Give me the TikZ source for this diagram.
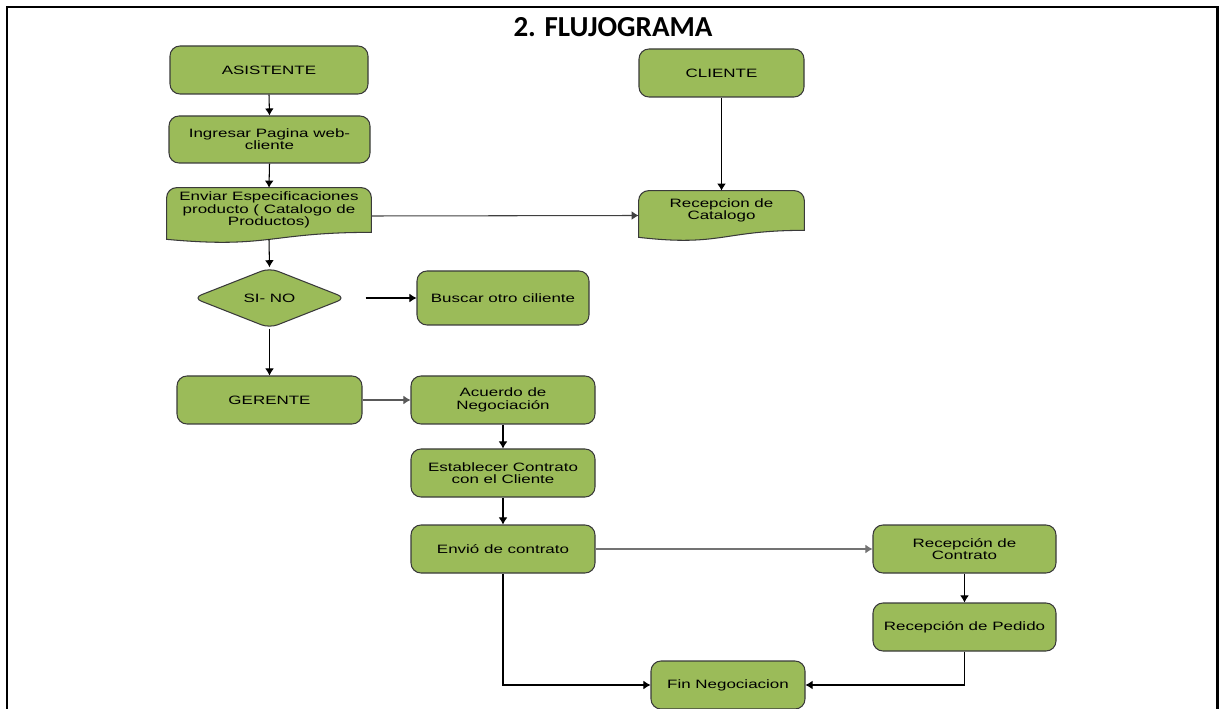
\documentclass[tikz,border=0pt]{standalone}
\usepackage{fontspec}
\setmainfont{Liberation Sans}
\newfontfamily\cajafont[FakeStretch=1.4]{Liberation Sans}
\newfontfamily\titulofont{Carlito}
\usetikzlibrary{arrows.meta,shapes.geometric,backgrounds}
\definecolor{verde}{HTML}{9BBB59}
\definecolor{borde}{HTML}{3A3A3A}
\def\px{0.02cm}

% hoja con borde ondulado abajo (documento)
\newcommand\hoja[1]{%
  \begin{pgfonlayer}{background}
    \filldraw[fill=verde,draw=borde,line width=0.6pt]
      (#1.south east)
      .. controls (#1.south) and ([yshift=-0.33cm]#1.south) .. ([yshift=-0.14cm]#1.south west)
      -- ([yshift=-0.2cm]#1.north west)
      arc[start angle=180,end angle=90,radius=0.2cm]
      -- ([xshift=-0.2cm]#1.north east)
      arc[start angle=90,end angle=0,radius=0.2cm]
      -- cycle;
  \end{pgfonlayer}}

\begin{document}
\begin{tikzpicture}[x=0.02cm,y=-0.02cm,
  txt/.style={align=center,text=black,font=\cajafont\fontsize{6.9}{7}\selectfont},
  caja/.style={txt,draw=borde,fill=verde,line width=0.6pt,rounded corners=0.2cm,
    minimum height=48*\px,inner sep=1pt},
  hojatxt/.style={txt,inner sep=0pt},
  decision/.style={txt,diamond,draw=borde,fill=verde,line width=0.6pt,rounded corners=5pt,
    inner sep=0pt,minimum width=153*\px,minimum height=54*\px},
  flecha/.style={-{Latex[length=4pt,width=5pt]},line width=0.6pt}]
  \useasboundingbox (0,0) rectangle (1224,709);
  \draw[line width=1.7pt] (7,709) -- (7,7) -- (1217,7) -- (1217,709);
  \node[anchor=base,font=\titulofont\bfseries\fontsize{16.5}{18}\selectfont] (tit) at (613,37) {2. FLUJOGRAMA};

  \node[caja,minimum width=198*\px] (asis) at (269,70) {ASISTENTE};
  \node[caja,minimum width=201*\px,minimum height=47*\px] (ingr) at (269.5,139.5) {Ingresar Pagina web-\\cliente};
  \node[hojatxt,minimum width=204*\px,minimum height=44*\px] (env) at (269,210) {Enviar Especificaciones\\producto ( Catalogo de\\Productos)};
  \hoja{env}
  \node[caja,minimum width=165*\px] (cli) at (721.5,73) {CLIENTE};
  \node[hojatxt,minimum width=165*\px,minimum height=39*\px] (rcat) at (721.5,210.5) {Recepcion de\\Catalogo};
  \hoja{rcat}
  \node[decision] (sino) at (269.5,298) {SI- NO};
  \node[caja,minimum width=172*\px,minimum height=54*\px] (busc) at (503,298) {Buscar otro ciliente};
  \node[caja,minimum width=185*\px] (ger) at (269.5,400) {GERENTE};
  \node[caja,minimum width=184*\px] (acu) at (503,400) {Acuerdo de\\Negociación};
  \node[caja,minimum width=184*\px] (est) at (503,473) {Establecer Contrato\\con el Cliente};
  \node[caja,minimum width=184*\px] (envc) at (503,549) {Envió de contrato};
  \node[caja,minimum width=183*\px] (rcon) at (964.5,549) {Recepción de\\Contrato};
  \node[caja,minimum width=183*\px] (rped) at (964.5,627) {Recepción de Pedido};
  \node[caja,minimum width=154*\px] (fin) at (728,685) {Fin Negociacion};

  \draw[flecha] (asis.south) -- (ingr.north);
  \draw[flecha] (ingr.south) -- (env.north);
  \draw[flecha] ([yshift=-0.14cm]env.south) -- (sino.north);
  \draw[flecha,draw=black!75] ([yshift=-0.12cm]env.east) -- ([yshift=-0.1cm]rcat.west);
  \draw[flecha] (cli.south) -- (rcat.north);
  \draw[flecha,shorten <=0.38cm] (sino.east) -- (busc.west);
  \draw[flecha] (sino.south) -- (ger.north);
  \draw[flecha,draw=black!65] (ger.east) -- (acu.west);
  \draw[flecha] (acu.south) -- (est.north);
  \draw[flecha] (est.south) -- (envc.north);
  \draw[flecha,draw=black!55] (envc.east) -- (rcon.west);
  \draw[flecha] (rcon.south) -- (rped.north);
  \draw[flecha] (envc.south) |- (fin.west);
  \draw[flecha] (rped.south) |- (fin.east);
\end{tikzpicture}
\end{document}
